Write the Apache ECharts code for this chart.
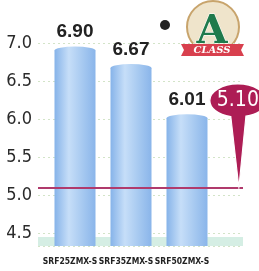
<!DOCTYPE html>
<html>
<head>
<meta charset="utf-8">
<script src="https://cdn.jsdelivr.net/npm/echarts@6/dist/echarts.min.js"></script>
<style>
	html, body { margin: 0; padding: 0; background: #fff; }
	#chart { width: 259px; height: 271px; }
</style>
</head>
<body>
<div id="chart"></div>
<script>
// values
const models = ['SRF25ZMX-S', 'SRF35ZMX-S', 'SRF50ZMX-S'];
const cop = [6.90, 6.67, 6.01];
const standard = [5.10];
const yRange = [4.33, 7.0];

const narrow = '"DejaVu Sans Condensed", "Liberation Sans Narrow", sans-serif';
const bubblePath = 'path://M0,17 C0,7.6 12.5,0 28,0 C43.5,0 56,7.6 56,17 C56,25 49,31 36,33 L29,104 L21,33.5 C8,31.5 0,25 0,17 Z';

const barGradient = () => new echarts.graphic.LinearGradient(0, 0, 1, 0, [
	{ offset: 0, color: '#86b3e9' },
	{ offset: 0.35, color: '#c6def8' },
	{ offset: 0.7, color: '#a5c8f0' },
	{ offset: 1, color: '#8ab5ea' }
]);

const chart = echarts.init(document.getElementById('chart'), null, { renderer: 'canvas' });

const option = {
	animation: false,
	backgroundColor: '#fff',
	grid: [
		{ left: 38, right: 16, top: 43, bottom: 25 },
		{ left: 47, right: 44, top: 43, bottom: 25 }
	],
	xAxis: [
		{ gridIndex: 0, type: 'value', min: 0, max: 1, show: false },
		{
			gridIndex: 1,
			type: 'category',
			data: models,
			axisLine: { show: false },
			axisTick: { show: false },
			axisLabel: {
				interval: 0,
				hideOverlap: false,
				margin: 11,
				fontFamily: narrow,
				fontWeight: 'bold',
				fontSize: 8.5,
				color: '#222',
				padding: [0, 10, 0, 0]
			}
		}
	],
	yAxis: [
		{
			gridIndex: 0,
			type: 'value',
			min: yRange[0],
			max: yRange[1],
			axisLine: { show: false },
			axisTick: { show: false },
			axisLabel: {
				margin: 6,
				fontFamily: narrow,
				fontSize: 18,
				color: '#2a2a2a',
				formatter: (v) => (Math.abs(v * 2 - Math.round(v * 2)) < 1e-6 ? v.toFixed(1) : '')
			},
			splitLine: { lineStyle: { color: '#d3e4c8', type: [2, 3], width: 1 } }
		},
		{
			gridIndex: 1,
			type: 'value',
			min: yRange[0],
			max: yRange[1],
			show: false,
			splitLine: { show: false }
		}
	],
	series: [
		{
			type: 'line',
			xAxisIndex: 0,
			yAxisIndex: 0,
			data: [],
			z: 1,
			silent: true,
			markArea: {
				silent: true,
				itemStyle: { color: '#d5eee4' },
				data: [[{ yAxis: yRange[0] }, { yAxis: 4.45 }]]
			}
		},
		{
			type: 'bar',
			xAxisIndex: 1,
			yAxisIndex: 1,
			data: cop,
			z: 3,
			barWidth: 41,
			itemStyle: { color: barGradient() },
			label: {
				show: true,
				position: 'top',
				distance: 9,
				fontFamily: 'Liberation Sans, Arial, sans-serif',
				fontWeight: 'bold',
				fontSize: 19,
				color: '#222',
				formatter: (p) => p.value.toFixed(2)
			}
		},
		{
			// rounded cylinder top
			type: 'pictorialBar',
			xAxisIndex: 1,
			yAxisIndex: 1,
			data: cop,
			z: 4,
			symbol: 'circle',
			symbolSize: [41, 8],
			symbolPosition: 'end',
			symbolOffset: [0, '-50%'],
			itemStyle: { color: barGradient() }
		},
		{
			type: 'line',
			xAxisIndex: 0,
			yAxisIndex: 0,
			data: [],
			z: 6,
			silent: true,
			markLine: {
				silent: true,
				symbol: 'none',
				label: { show: false },
				lineStyle: { color: '#b03a6c', width: 2, type: 'solid' },
				data: [{ yAxis: standard[0] }]
			},
			markPoint: {
				silent: true,
				symbol: bubblePath,
				symbolSize: [56, 104],
				symbolKeepAspect: false,
				symbolOffset: [0, -52],
				itemStyle: { color: '#ad1d55', borderColor: '#fff', borderWidth: 1.5 },
				label: {
					show: true,
					position: 'inside',
					offset: [0, -35],
					fontFamily: narrow,
					fontSize: 21,
					color: '#fff',
					formatter: (p) => p.value.toFixed(2)
				},
				data: [{ coord: [0.975, standard[0]], value: standard[0] }]
			}
		}
	],
	graphic: [
		{
			type: 'group',
			left: 160,
			top: 0,
			children: [
				{ type: 'circle', shape: { cx: 4, cy: 2, r: 5 }, style: { fill: '#222' } },
				{ type: 'circle', shape: { cx: 52, cy: 4, r: 26 }, style: { fill: '#efe4cb', stroke: '#c8a46c', lineWidth: 2 } },
				{
					type: 'text',
					x: 51,
					y: -10,
					style: {
						text: 'A',
						font: 'bold 40px "DejaVu Serif", serif',
						fill: '#1f7a4c',
						stroke: '#fff',
						lineWidth: 1,
						align: 'center'
					}
				},
				{
					type: 'polygon',
					shape: { points: [[20, 21], [83, 21], [80, 27], [83, 33], [20, 33], [23, 27]] },
					style: { fill: '#d8404e' }
				},
				{
					type: 'text',
					x: 51,
					y: 22,
					style: {
						text: 'CLASS',
						font: 'bold italic 10px "DejaVu Serif", serif',
						fill: '#fff',
						align: 'center'
					}
				}
			]
		}
	]
};

chart.setOption(option);
</script>
</body>
</html>
